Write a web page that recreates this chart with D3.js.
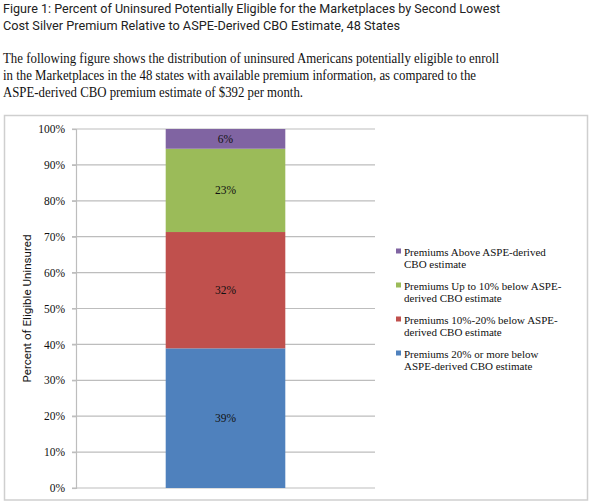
<!DOCTYPE html>
<html>
<head>
<meta charset="utf-8">
<script src="https://cdn.jsdelivr.net/npm/d3@7/dist/d3.min.js"></script>
<style>
  html, body { margin: 0; padding: 0; background: #fff; }
  svg { display: block; }
</style>
</head>
<body>
<svg id="chart" width="590" height="502"></svg>
<script>
// ---- data ----
const titleLines = [
  "Figure 1: Percent of Uninsured Potentially Eligible for the Marketplaces by Second Lowest",
  "Cost Silver Premium Relative to ASPE-Derived CBO Estimate, 48 States"
];
const introLines = [
  "The following figure shows the distribution of uninsured Americans potentially eligible to enroll",
  "in the Marketplaces in the 48 states with available premium information, as compared to the",
  "ASPE-derived CBO premium estimate of $392 per month."
];
const categories = ["48 States"];
const seriesNames = [
  "Premiums 20% or more below ASPE-derived CBO estimate",
  "Premiums 10%-20% below ASPE-derived CBO estimate",
  "Premiums Up to 10% below ASPE-derived CBO estimate",
  "Premiums Above ASPE-derived CBO estimate"
];
const legendLines = [
  ["Premiums 20% or more below", "ASPE-derived CBO estimate"],
  ["Premiums 10%-20% below ASPE-", "derived CBO estimate"],
  ["Premiums Up to 10% below ASPE-", "derived CBO estimate"],
  ["Premiums Above ASPE-derived", "CBO estimate"]
];
const seriesValues = [38.9, 32.4, 23.2, 5.5];
const valueLabels = ["39%", "32%", "23%", "6%"];
const seriesColors = ["#4F81BD", "#C0504D", "#9BBB59", "#8064A2"];
const yTicks = [0, 10, 20, 30, 40, 50, 60, 70, 80, 90, 100];
const yTitle = "Percent of Eligible Uninsured";

// ---- drawing ----
const svg = d3.select("#chart");
const condensed = "'Liberation Sans Narrow', 'Arial Narrow', 'Roboto', 'Liberation Sans', sans-serif";
const serif = "'Liberation Serif', 'Times New Roman', serif";

// header title
const titleEnds = [500, 400];
titleLines.forEach((t, i) => {
  svg.append("text")
    .attr("x", 3).attr("y", 13 + i * 16.5)
    .style("font-family", condensed).style("font-size", "13px")
    .attr("fill", "#222")
    .attr("textLength", titleEnds[i] - 3).attr("lengthAdjust", "spacingAndGlyphs")
    .text(t);
});
// intro paragraph
const introEnds = [499, 476, 303];
introLines.forEach((t, i) => {
  svg.append("text")
    .attr("x", 3).attr("y", 63 + i * 17)
    .style("font-family", serif).style("font-size", "13.6px")
    .attr("fill", "#111")
    .attr("textLength", introEnds[i] - 3).attr("lengthAdjust", "spacingAndGlyphs")
    .text(t);
});

// chart frame
svg.append("rect")
  .attr("x", 4.5).attr("y", 115.5).attr("width", 583).attr("height", 384.5)
  .attr("fill", "#fff").attr("stroke", "#cfcfcf").attr("stroke-width", 1.5);

const plot = { left: 76, right: 375, top: 129, bottom: 488 };
const y = d3.scaleLinear().domain([0, 100]).range([plot.bottom, plot.top]);
const x = d3.scaleBand().domain(categories).range([plot.left, plot.right])
  .paddingInner(0).paddingOuter(0.75);

// gridlines
svg.append("g").selectAll("line").data(yTicks).join("line")
  .attr("x1", plot.left - 4).attr("x2", plot.right)
  .attr("y1", d => y(d)).attr("y2", d => y(d))
  .attr("stroke", "#bdbdbd").attr("stroke-width", 1.2);

// y axis
const yAxis = d3.axisLeft(y).tickValues(yTicks).tickFormat(d => d + "%").tickSize(4).tickPadding(7);
const gy = svg.append("g").attr("transform", `translate(${plot.left},0)`).call(yAxis);
gy.attr("font-family", null).attr("font-size", null);
gy.select(".domain").attr("stroke", "#bdbdbd").attr("stroke-width", 1.2);
gy.selectAll(".tick line").attr("stroke", "#bdbdbd").attr("stroke-width", 1.2);
gy.selectAll(".tick text")
  .style("font-family", serif).style("font-size", "11.5px").attr("fill", "#111");

// y title
svg.append("text")
  .attr("transform", `translate(31,${(plot.top + plot.bottom) / 2}) rotate(-90)`)
  .attr("text-anchor", "middle")
  .style("font-family", condensed).style("font-size", "11.5px").attr("fill", "#111")
  .attr("textLength", 148).attr("lengthAdjust", "spacingAndGlyphs")
  .text(yTitle);

// stacked bars
const stackData = [];
let acc = 0;
seriesValues.forEach((v, i) => {
  stackData.push({ y0: acc, y1: acc + v, color: seriesColors[i], label: valueLabels[i], cat: categories[0] });
  acc += v;
});
svg.append("g").selectAll("rect").data(stackData).join("rect")
  .attr("x", d => x(d.cat)).attr("width", x.bandwidth())
  .attr("y", d => y(d.y1)).attr("height", d => y(d.y0) - y(d.y1))
  .attr("fill", d => d.color);
svg.append("g").selectAll("text").data(stackData).join("text")
  .attr("x", d => x(d.cat) + x.bandwidth() / 2)
  .attr("y", d => (y(d.y0) + y(d.y1)) / 2 + 4)
  .attr("text-anchor", "middle")
  .style("font-family", serif).style("font-size", "11.5px").attr("fill", "#111")
  .text(d => d.label);

// legend (top to bottom: reverse of stack)
const legendOrder = d3.range(seriesNames.length).reverse();
const lg = svg.append("g");
legendOrder.forEach((si, k) => {
  const baseY = 256 + k * 34;
  lg.append("rect")
    .attr("x", 396).attr("y", baseY - 7.5).attr("width", 5).attr("height", 5)
    .attr("fill", seriesColors[si]);
  legendLines[si].forEach((line, j) => {
    lg.append("text")
      .attr("x", 404).attr("y", baseY + j * 11.7)
      .style("font-family", serif).style("font-size", "11px").attr("fill", "#111")
      .text(line);
  });
});
</script>
</body>
</html>
